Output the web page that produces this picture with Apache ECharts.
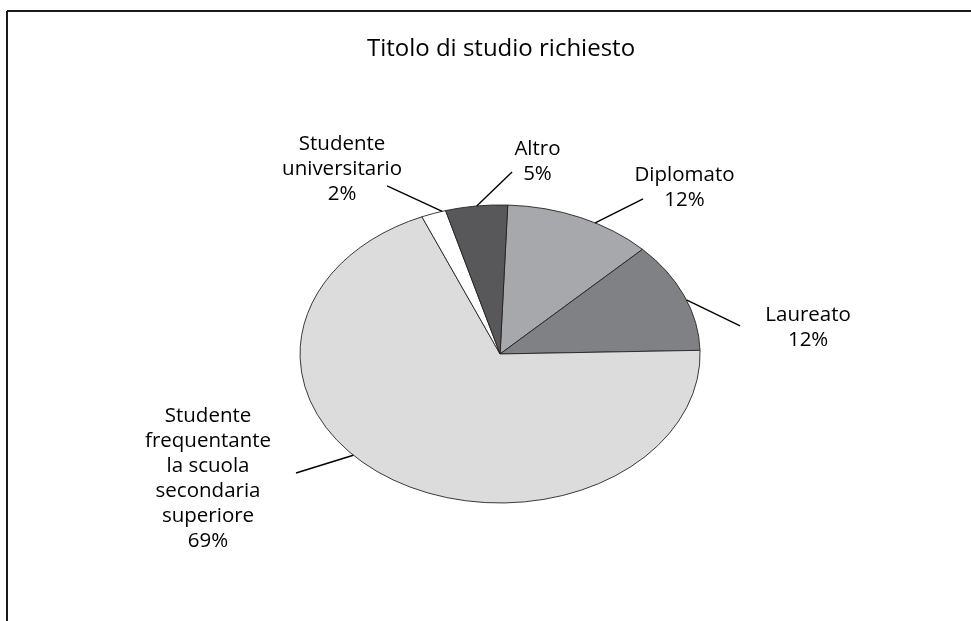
<!DOCTYPE html>
<html>
<head>
<meta charset="utf-8">
<title>Titolo di studio richiesto</title>
<script src="https://cdn.jsdelivr.net/npm/echarts@6/dist/echarts.min.js"></script>
<style>
  html, body { margin: 0; padding: 0; background: #ffffff; overflow: hidden; }
  #chart { width: 971px; height: 621px; }
</style>
</head>
<body>
<div id="chart"></div>
<script>
// Survey answers: required level of education (percent of respondents)
const chartTitle = 'Titolo di studio richiesto';
const categories = [
  'Diplomato',
  'Laureato',
  'Studente frequentante la scuola secondaria superiore',
  'Studente universitario',
  'Altro'
];
// Category names as they are broken over lines in the labels
const categoryLines = [
  ['Diplomato'],
  ['Laureato'],
  ['Studente', 'frequentante', 'la scuola', 'secondaria', 'superiore'],
  ['Studente', 'universitario'],
  ['Altro']
];
const shares = [12, 12, 69, 2, 5];

// Slice fills
const sliceColors = ['#a7a8ab', '#808184', '#dcdcdd', '#ffffff', '#58585a'];

// Pie geometry (fractions of the canvas) and tilt of the ellipse
const pieLayout = { cx: 0.515, cy: 0.570, rx: 0.206, tilt: 0.745, startOffsetDeg: 2.2 };

// Label placement in units of the pie radii, relative to the pie centre:
// rim = angle (deg, clockwise from 12 o'clock) where the leader line touches the pie,
// end = free end of the leader line, text = centre of the label block.
const labelPlacement = [
  { rim: 28.4,  end: [0.715, -1.040], text: [0.922, -1.117] },
  { rim: 68.7,  end: [1.200, -0.188], text: [1.540, -0.178] },
  { rim: 227.2, end: [-1.020, 0.799], text: [-1.460, 0.836] },
  { rim: 343.2, end: [-0.565, -1.128], text: [-0.790, -1.241] },
  { rim: 353.3, end: [0.060, -1.221], text: [0.187, -1.292] }
];

const total = shares.reduce((a, b) => a + b, 0);
const cumulative = shares.map((_, i) => shares.slice(0, i).reduce((a, b) => a + b, 0));

function renderSlice(params, api) {
  const i = params.dataIndex;
  const value = api.value(0);
  const w = api.getWidth();
  const h = api.getHeight();
  const cx = w * pieLayout.cx;
  const cy = h * pieLayout.cy;
  const rx = w * pieLayout.rx;
  const ry = rx * pieLayout.tilt;

  const offset = pieLayout.startOffsetDeg * Math.PI / 180;
  const a0 = -Math.PI / 2 + offset + cumulative[i] / total * Math.PI * 2;
  const a1 = a0 + value / total * Math.PI * 2;

  const p = labelPlacement[i];
  const rimRad = p.rim * Math.PI / 180;
  const lx1 = cx + rx * Math.sin(rimRad);
  const ly1 = cy - ry * Math.cos(rimRad);
  const lx2 = cx + p.end[0] * rx;
  const ly2 = cy + p.end[1] * ry;

  const label = categoryLines[i].concat([value + '%']).join('\n');

  return {
    type: 'group',
    children: [
      {
        type: 'sector',
        shape: { cx: cx, cy: cy, r: rx, r0: 0, startAngle: a0, endAngle: a1, clockwise: true },
        originX: cx,
        originY: cy,
        scaleY: pieLayout.tilt,
        style: {
          fill: sliceColors[i],
          stroke: '#231f20',
          lineWidth: 1,
          strokeNoScale: true
        }
      },
      {
        type: 'line',
        shape: { x1: lx1, y1: ly1, x2: lx2, y2: ly2 },
        style: { stroke: '#000000', lineWidth: 1.4 }
      },
      {
        type: 'text',
        x: cx + p.text[0] * rx,
        y: cy + p.text[1] * ry,
        style: {
          text: label,
          fill: '#000000',
          fontFamily: '"Open Sans", sans-serif',
          fontSize: 20.5,
          lineHeight: 25,
          align: 'center',
          verticalAlign: 'middle'
        }
      }
    ]
  };
}

const chart = echarts.init(document.getElementById('chart'), null, { renderer: 'canvas' });

chart.setOption({
  backgroundColor: '#ffffff',
  animation: false,
  title: {
    text: chartTitle,
    left: 496,
    top: 32,
    textAlign: 'center',
    textStyle: {
      fontFamily: '"Open Sans", sans-serif',
      fontSize: 24,
      fontWeight: 'normal',
      color: '#000000'
    }
  },
  graphic: [
    {
      type: 'line',
      shape: { x1: 7, y1: 11, x2: 1100, y2: 11 },
      style: { stroke: '#1a1a1a', lineWidth: 2 },
      silent: true,
      z: -1
    },
    {
      type: 'line',
      shape: { x1: 7, y1: 11, x2: 7, y2: 800 },
      style: { stroke: '#1a1a1a', lineWidth: 2 },
      silent: true,
      z: -1
    }
  ],
  series: [
    {
      type: 'custom',
      name: chartTitle,
      coordinateSystem: 'none',
      renderItem: renderSlice,
      data: shares.map((v, i) => ({ name: categories[i], value: v }))
    }
  ]
});
</script>
</body>
</html>
